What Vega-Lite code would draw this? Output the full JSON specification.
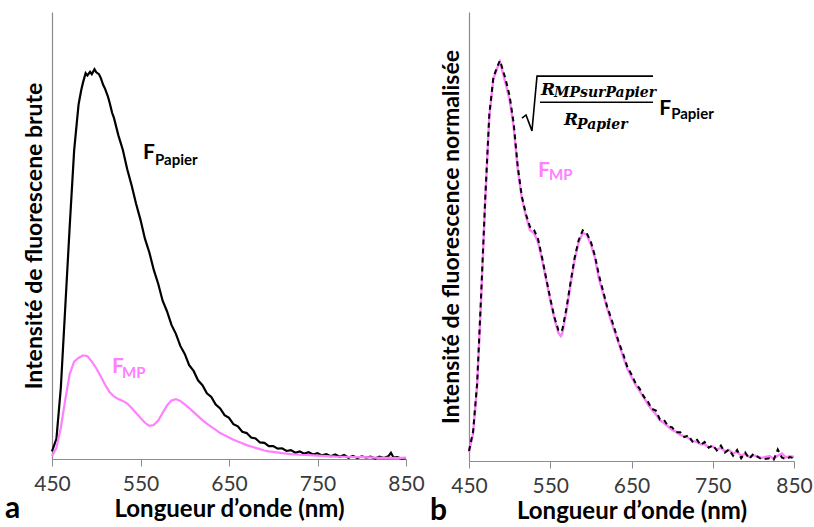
{
  "$schema": "https://vega.github.io/schema/vega-lite/v6.json",
  "padding": {"left": 5, "top": 12, "right": 5, "bottom": 0},
  "spacing": 5,
  "background": "white",
  "config": {
    "font": "Lato",
    "view": {"stroke": null},
    "axisX": {
      "grid": false,
      "labelFlush": false,
      "labelOverlap": false,
      "labelFontSize": 21,
      "labelColor": "#3a3a3a",
      "labelPadding": 7,
      "tickSize": 7,
      "tickColor": "#8c8c8c",
      "domainColor": "#8c8c8c",
      "domainWidth": 1.2,
      "titleFontSize": 24,
      "titleFontWeight": "bold",
      "titleColor": "#000000",
      "titlePadding": 3
    },
    "axisY": {
      "grid": false,
      "ticks": false,
      "labels": false,
      "domainColor": "#8c8c8c",
      "domainWidth": 1.2,
      "titleFontSize": 23,
      "titleFontWeight": "bold",
      "titleColor": "#000000",
      "titlePadding": 6
    },
    "title": {"fontSize": 30, "fontWeight": "bold", "color": "#000000", "font": "Lato"}
  },
  "datasets": {
    "spectra": [
      {"panel": "a", "series": "papier", "nm": 450, "value": 1.7},
      {"panel": "a", "series": "papier", "nm": 455, "value": 4.5},
      {"panel": "a", "series": "papier", "nm": 460, "value": 16},
      {"panel": "a", "series": "papier", "nm": 465, "value": 34},
      {"panel": "a", "series": "papier", "nm": 470, "value": 52},
      {"panel": "a", "series": "papier", "nm": 475, "value": 69},
      {"panel": "a", "series": "papier", "nm": 480, "value": 79.3},
      {"panel": "a", "series": "papier", "nm": 483, "value": 82.5},
      {"panel": "a", "series": "papier", "nm": 485, "value": 84.2},
      {"panel": "a", "series": "papier", "nm": 488, "value": 86.3},
      {"panel": "a", "series": "papier", "nm": 490, "value": 85.8},
      {"panel": "a", "series": "papier", "nm": 493, "value": 86.6},
      {"panel": "a", "series": "papier", "nm": 495, "value": 86.1},
      {"panel": "a", "series": "papier", "nm": 498, "value": 87.2},
      {"panel": "a", "series": "papier", "nm": 500, "value": 86.5},
      {"panel": "a", "series": "papier", "nm": 503, "value": 86.1},
      {"panel": "a", "series": "papier", "nm": 505, "value": 85.3},
      {"panel": "a", "series": "papier", "nm": 508, "value": 83.6},
      {"panel": "a", "series": "papier", "nm": 510, "value": 82.8},
      {"panel": "a", "series": "papier", "nm": 513, "value": 81.2},
      {"panel": "a", "series": "papier", "nm": 515, "value": 79.8},
      {"panel": "a", "series": "papier", "nm": 518, "value": 77.4},
      {"panel": "a", "series": "papier", "nm": 520, "value": 76.3},
      {"panel": "a", "series": "papier", "nm": 525, "value": 72.4},
      {"panel": "a", "series": "papier", "nm": 530, "value": 69.2},
      {"panel": "a", "series": "papier", "nm": 535, "value": 64.8},
      {"panel": "a", "series": "papier", "nm": 540, "value": 61.2},
      {"panel": "a", "series": "papier", "nm": 545, "value": 57.1},
      {"panel": "a", "series": "papier", "nm": 550, "value": 53.5},
      {"panel": "a", "series": "papier", "nm": 555, "value": 49.3},
      {"panel": "a", "series": "papier", "nm": 560, "value": 46.2},
      {"panel": "a", "series": "papier", "nm": 565, "value": 42.3},
      {"panel": "a", "series": "papier", "nm": 570, "value": 39.2},
      {"panel": "a", "series": "papier", "nm": 575, "value": 35.4},
      {"panel": "a", "series": "papier", "nm": 580, "value": 33},
      {"panel": "a", "series": "papier", "nm": 585, "value": 30},
      {"panel": "a", "series": "papier", "nm": 590, "value": 28},
      {"panel": "a", "series": "papier", "nm": 595, "value": 25.3},
      {"panel": "a", "series": "papier", "nm": 600, "value": 23.5},
      {"panel": "a", "series": "papier", "nm": 605, "value": 21},
      {"panel": "a", "series": "papier", "nm": 610, "value": 19.7},
      {"panel": "a", "series": "papier", "nm": 615, "value": 17.6},
      {"panel": "a", "series": "papier", "nm": 620, "value": 16.5},
      {"panel": "a", "series": "papier", "nm": 625, "value": 14.7},
      {"panel": "a", "series": "papier", "nm": 630, "value": 13.9},
      {"panel": "a", "series": "papier", "nm": 635, "value": 12.2},
      {"panel": "a", "series": "papier", "nm": 640, "value": 11.3},
      {"panel": "a", "series": "papier", "nm": 645, "value": 9.8},
      {"panel": "a", "series": "papier", "nm": 650, "value": 9.2},
      {"panel": "a", "series": "papier", "nm": 655, "value": 7.8},
      {"panel": "a", "series": "papier", "nm": 660, "value": 7.3},
      {"panel": "a", "series": "papier", "nm": 665, "value": 6.1},
      {"panel": "a", "series": "papier", "nm": 670, "value": 5.8},
      {"panel": "a", "series": "papier", "nm": 675, "value": 4.8},
      {"panel": "a", "series": "papier", "nm": 680, "value": 4.6},
      {"panel": "a", "series": "papier", "nm": 685, "value": 3.7},
      {"panel": "a", "series": "papier", "nm": 690, "value": 3.6},
      {"panel": "a", "series": "papier", "nm": 695, "value": 2.9},
      {"panel": "a", "series": "papier", "nm": 700, "value": 2.9},
      {"panel": "a", "series": "papier", "nm": 705, "value": 2.3},
      {"panel": "a", "series": "papier", "nm": 710, "value": 2.4},
      {"panel": "a", "series": "papier", "nm": 715, "value": 1.8},
      {"panel": "a", "series": "papier", "nm": 720, "value": 2},
      {"panel": "a", "series": "papier", "nm": 725, "value": 1.4},
      {"panel": "a", "series": "papier", "nm": 730, "value": 1.7},
      {"panel": "a", "series": "papier", "nm": 735, "value": 1.2},
      {"panel": "a", "series": "papier", "nm": 740, "value": 1.5},
      {"panel": "a", "series": "papier", "nm": 745, "value": 1},
      {"panel": "a", "series": "papier", "nm": 750, "value": 1.3},
      {"panel": "a", "series": "papier", "nm": 755, "value": 0.8},
      {"panel": "a", "series": "papier", "nm": 760, "value": 1.1},
      {"panel": "a", "series": "papier", "nm": 765, "value": 0.6},
      {"panel": "a", "series": "papier", "nm": 770, "value": 1},
      {"panel": "a", "series": "papier", "nm": 775, "value": 0.5},
      {"panel": "a", "series": "papier", "nm": 780, "value": 0.9},
      {"panel": "a", "series": "papier", "nm": 785, "value": 0.3},
      {"panel": "a", "series": "papier", "nm": 790, "value": 0.7},
      {"panel": "a", "series": "papier", "nm": 795, "value": 0.2},
      {"panel": "a", "series": "papier", "nm": 800, "value": 0.6},
      {"panel": "a", "series": "papier", "nm": 805, "value": 0.3},
      {"panel": "a", "series": "papier", "nm": 810, "value": 0.5},
      {"panel": "a", "series": "papier", "nm": 815, "value": 0.1},
      {"panel": "a", "series": "papier", "nm": 820, "value": 0.5},
      {"panel": "a", "series": "papier", "nm": 825, "value": 0.2},
      {"panel": "a", "series": "papier", "nm": 830, "value": 0.6},
      {"panel": "a", "series": "papier", "nm": 833, "value": 1.4},
      {"panel": "a", "series": "papier", "nm": 836, "value": 0.3},
      {"panel": "a", "series": "papier", "nm": 840, "value": 0.4},
      {"panel": "a", "series": "papier", "nm": 845, "value": 0.1},
      {"panel": "a", "series": "papier", "nm": 850, "value": 0.2},

      {"panel": "a", "series": "mp", "nm": 450, "value": 0.6},
      {"panel": "a", "series": "mp", "nm": 455, "value": 2.5},
      {"panel": "a", "series": "mp", "nm": 460, "value": 7},
      {"panel": "a", "series": "mp", "nm": 465, "value": 13.3},
      {"panel": "a", "series": "mp", "nm": 470, "value": 19},
      {"panel": "a", "series": "mp", "nm": 475, "value": 21.8},
      {"panel": "a", "series": "mp", "nm": 480, "value": 22.6},
      {"panel": "a", "series": "mp", "nm": 485, "value": 23.2},
      {"panel": "a", "series": "mp", "nm": 490, "value": 23},
      {"panel": "a", "series": "mp", "nm": 495, "value": 21.8},
      {"panel": "a", "series": "mp", "nm": 500, "value": 20.3},
      {"panel": "a", "series": "mp", "nm": 505, "value": 18.5},
      {"panel": "a", "series": "mp", "nm": 510, "value": 16.6},
      {"panel": "a", "series": "mp", "nm": 515, "value": 15},
      {"panel": "a", "series": "mp", "nm": 520, "value": 14},
      {"panel": "a", "series": "mp", "nm": 525, "value": 13.4},
      {"panel": "a", "series": "mp", "nm": 530, "value": 13},
      {"panel": "a", "series": "mp", "nm": 535, "value": 12.4},
      {"panel": "a", "series": "mp", "nm": 540, "value": 11.4},
      {"panel": "a", "series": "mp", "nm": 545, "value": 10.3},
      {"panel": "a", "series": "mp", "nm": 550, "value": 9.2},
      {"panel": "a", "series": "mp", "nm": 555, "value": 8.1},
      {"panel": "a", "series": "mp", "nm": 560, "value": 7.4},
      {"panel": "a", "series": "mp", "nm": 565, "value": 7.6},
      {"panel": "a", "series": "mp", "nm": 570, "value": 8.6},
      {"panel": "a", "series": "mp", "nm": 575, "value": 10.3},
      {"panel": "a", "series": "mp", "nm": 580, "value": 12},
      {"panel": "a", "series": "mp", "nm": 585, "value": 13.1},
      {"panel": "a", "series": "mp", "nm": 590, "value": 13.4},
      {"panel": "a", "series": "mp", "nm": 595, "value": 13},
      {"panel": "a", "series": "mp", "nm": 600, "value": 12.2},
      {"panel": "a", "series": "mp", "nm": 605, "value": 11.4},
      {"panel": "a", "series": "mp", "nm": 610, "value": 10.5},
      {"panel": "a", "series": "mp", "nm": 615, "value": 9.6},
      {"panel": "a", "series": "mp", "nm": 620, "value": 8.7},
      {"panel": "a", "series": "mp", "nm": 625, "value": 7.9},
      {"panel": "a", "series": "mp", "nm": 630, "value": 7.2},
      {"panel": "a", "series": "mp", "nm": 635, "value": 6.5},
      {"panel": "a", "series": "mp", "nm": 640, "value": 5.8},
      {"panel": "a", "series": "mp", "nm": 645, "value": 5.3},
      {"panel": "a", "series": "mp", "nm": 650, "value": 4.8},
      {"panel": "a", "series": "mp", "nm": 655, "value": 4.3},
      {"panel": "a", "series": "mp", "nm": 660, "value": 3.9},
      {"panel": "a", "series": "mp", "nm": 665, "value": 3.5},
      {"panel": "a", "series": "mp", "nm": 670, "value": 3.1},
      {"panel": "a", "series": "mp", "nm": 675, "value": 2.8},
      {"panel": "a", "series": "mp", "nm": 680, "value": 2.5},
      {"panel": "a", "series": "mp", "nm": 685, "value": 2.2},
      {"panel": "a", "series": "mp", "nm": 690, "value": 1.9},
      {"panel": "a", "series": "mp", "nm": 695, "value": 1.7},
      {"panel": "a", "series": "mp", "nm": 700, "value": 1.6},
      {"panel": "a", "series": "mp", "nm": 710, "value": 1.3},
      {"panel": "a", "series": "mp", "nm": 720, "value": 1.1},
      {"panel": "a", "series": "mp", "nm": 730, "value": 0.95},
      {"panel": "a", "series": "mp", "nm": 740, "value": 0.85},
      {"panel": "a", "series": "mp", "nm": 750, "value": 0.75},
      {"panel": "a", "series": "mp", "nm": 760, "value": 0.65},
      {"panel": "a", "series": "mp", "nm": 770, "value": 0.55},
      {"panel": "a", "series": "mp", "nm": 780, "value": 0.5},
      {"panel": "a", "series": "mp", "nm": 790, "value": 0.45},
      {"panel": "a", "series": "mp", "nm": 800, "value": 0.4},
      {"panel": "a", "series": "mp", "nm": 810, "value": 0.35},
      {"panel": "a", "series": "mp", "nm": 820, "value": 0.25},
      {"panel": "a", "series": "mp", "nm": 830, "value": 0.25},
      {"panel": "a", "series": "mp", "nm": 840, "value": 0.2},
      {"panel": "a", "series": "mp", "nm": 850, "value": 0.3},

      {"panel": "b", "series": "mp", "nm": 450, "value": 2},
      {"panel": "b", "series": "mp", "nm": 455, "value": 6.2},
      {"panel": "b", "series": "mp", "nm": 460, "value": 17},
      {"panel": "b", "series": "mp", "nm": 465, "value": 37},
      {"panel": "b", "series": "mp", "nm": 470, "value": 59},
      {"panel": "b", "series": "mp", "nm": 475, "value": 78},
      {"panel": "b", "series": "mp", "nm": 480, "value": 86.5},
      {"panel": "b", "series": "mp", "nm": 485, "value": 89},
      {"panel": "b", "series": "mp", "nm": 488, "value": 90.3},
      {"panel": "b", "series": "mp", "nm": 490, "value": 89},
      {"panel": "b", "series": "mp", "nm": 495, "value": 85.5},
      {"panel": "b", "series": "mp", "nm": 500, "value": 81.7},
      {"panel": "b", "series": "mp", "nm": 505, "value": 75.5},
      {"panel": "b", "series": "mp", "nm": 510, "value": 66},
      {"panel": "b", "series": "mp", "nm": 515, "value": 59.5},
      {"panel": "b", "series": "mp", "nm": 520, "value": 55.5},
      {"panel": "b", "series": "mp", "nm": 525, "value": 52.2},
      {"panel": "b", "series": "mp", "nm": 530, "value": 51.6},
      {"panel": "b", "series": "mp", "nm": 535, "value": 49.5},
      {"panel": "b", "series": "mp", "nm": 540, "value": 45.5},
      {"panel": "b", "series": "mp", "nm": 545, "value": 41},
      {"panel": "b", "series": "mp", "nm": 550, "value": 36.3},
      {"panel": "b", "series": "mp", "nm": 555, "value": 32.3},
      {"panel": "b", "series": "mp", "nm": 560, "value": 29},
      {"panel": "b", "series": "mp", "nm": 563, "value": 28.3},
      {"panel": "b", "series": "mp", "nm": 565, "value": 29},
      {"panel": "b", "series": "mp", "nm": 570, "value": 34},
      {"panel": "b", "series": "mp", "nm": 575, "value": 40},
      {"panel": "b", "series": "mp", "nm": 580, "value": 45.5},
      {"panel": "b", "series": "mp", "nm": 585, "value": 49.5},
      {"panel": "b", "series": "mp", "nm": 590, "value": 51.6},
      {"panel": "b", "series": "mp", "nm": 595, "value": 51.2},
      {"panel": "b", "series": "mp", "nm": 600, "value": 49},
      {"panel": "b", "series": "mp", "nm": 605, "value": 46},
      {"panel": "b", "series": "mp", "nm": 610, "value": 41.2},
      {"panel": "b", "series": "mp", "nm": 615, "value": 37.9},
      {"panel": "b", "series": "mp", "nm": 620, "value": 34.6},
      {"panel": "b", "series": "mp", "nm": 625, "value": 31.6},
      {"panel": "b", "series": "mp", "nm": 630, "value": 28.9},
      {"panel": "b", "series": "mp", "nm": 635, "value": 26.2},
      {"panel": "b", "series": "mp", "nm": 640, "value": 23.4},
      {"panel": "b", "series": "mp", "nm": 645, "value": 20.8},
      {"panel": "b", "series": "mp", "nm": 650, "value": 19},
      {"panel": "b", "series": "mp", "nm": 655, "value": 17.3},
      {"panel": "b", "series": "mp", "nm": 660, "value": 15.8},
      {"panel": "b", "series": "mp", "nm": 665, "value": 14.4},
      {"panel": "b", "series": "mp", "nm": 670, "value": 12.9},
      {"panel": "b", "series": "mp", "nm": 675, "value": 11.6},
      {"panel": "b", "series": "mp", "nm": 680, "value": 10.6},
      {"panel": "b", "series": "mp", "nm": 685, "value": 9.2},
      {"panel": "b", "series": "mp", "nm": 690, "value": 8.6},
      {"panel": "b", "series": "mp", "nm": 695, "value": 7.8},
      {"panel": "b", "series": "mp", "nm": 700, "value": 7},
      {"panel": "b", "series": "mp", "nm": 705, "value": 6.6},
      {"panel": "b", "series": "mp", "nm": 710, "value": 5.9},
      {"panel": "b", "series": "mp", "nm": 715, "value": 5.6},
      {"panel": "b", "series": "mp", "nm": 720, "value": 5.2},
      {"panel": "b", "series": "mp", "nm": 725, "value": 4.5},
      {"panel": "b", "series": "mp", "nm": 730, "value": 4.4},
      {"panel": "b", "series": "mp", "nm": 735, "value": 3.8},
      {"panel": "b", "series": "mp", "nm": 740, "value": 3.8},
      {"panel": "b", "series": "mp", "nm": 745, "value": 3.1},
      {"panel": "b", "series": "mp", "nm": 750, "value": 3.3},
      {"panel": "b", "series": "mp", "nm": 755, "value": 2.6},
      {"panel": "b", "series": "mp", "nm": 760, "value": 3},
      {"panel": "b", "series": "mp", "nm": 765, "value": 2.2},
      {"panel": "b", "series": "mp", "nm": 770, "value": 2.5},
      {"panel": "b", "series": "mp", "nm": 775, "value": 1.7},
      {"panel": "b", "series": "mp", "nm": 780, "value": 2},
      {"panel": "b", "series": "mp", "nm": 785, "value": 1.2},
      {"panel": "b", "series": "mp", "nm": 790, "value": 1.6},
      {"panel": "b", "series": "mp", "nm": 795, "value": 0.9},
      {"panel": "b", "series": "mp", "nm": 800, "value": 1.3},
      {"panel": "b", "series": "mp", "nm": 810, "value": 0.7},
      {"panel": "b", "series": "mp", "nm": 820, "value": 1.1},
      {"panel": "b", "series": "mp", "nm": 825, "value": 0.5},
      {"panel": "b", "series": "mp", "nm": 830, "value": 1.2},
      {"panel": "b", "series": "mp", "nm": 835, "value": 1.7},
      {"panel": "b", "series": "mp", "nm": 840, "value": 0.8},
      {"panel": "b", "series": "mp", "nm": 845, "value": 1.1},
      {"panel": "b", "series": "mp", "nm": 850, "value": 0.9},

      {"panel": "b", "series": "papier", "nm": 450, "value": 2.3},
      {"panel": "b", "series": "papier", "nm": 455, "value": 6.6},
      {"panel": "b", "series": "papier", "nm": 460, "value": 17.5},
      {"panel": "b", "series": "papier", "nm": 465, "value": 37.8},
      {"panel": "b", "series": "papier", "nm": 470, "value": 59.5},
      {"panel": "b", "series": "papier", "nm": 475, "value": 78.4},
      {"panel": "b", "series": "papier", "nm": 480, "value": 86.8},
      {"panel": "b", "series": "papier", "nm": 485, "value": 89.3},
      {"panel": "b", "series": "papier", "nm": 488, "value": 90.6},
      {"panel": "b", "series": "papier", "nm": 490, "value": 89.5},
      {"panel": "b", "series": "papier", "nm": 495, "value": 86.4},
      {"panel": "b", "series": "papier", "nm": 500, "value": 82.6},
      {"panel": "b", "series": "papier", "nm": 505, "value": 76.4},
      {"panel": "b", "series": "papier", "nm": 510, "value": 66.6},
      {"panel": "b", "series": "papier", "nm": 515, "value": 59.9},
      {"panel": "b", "series": "papier", "nm": 520, "value": 55.9},
      {"panel": "b", "series": "papier", "nm": 525, "value": 53},
      {"panel": "b", "series": "papier", "nm": 530, "value": 52.3},
      {"panel": "b", "series": "papier", "nm": 535, "value": 50.2},
      {"panel": "b", "series": "papier", "nm": 540, "value": 46},
      {"panel": "b", "series": "papier", "nm": 545, "value": 41.3},
      {"panel": "b", "series": "papier", "nm": 550, "value": 36.8},
      {"panel": "b", "series": "papier", "nm": 555, "value": 32.6},
      {"panel": "b", "series": "papier", "nm": 560, "value": 29.6},
      {"panel": "b", "series": "papier", "nm": 563, "value": 29.2},
      {"panel": "b", "series": "papier", "nm": 565, "value": 29.8},
      {"panel": "b", "series": "papier", "nm": 570, "value": 34.6},
      {"panel": "b", "series": "papier", "nm": 575, "value": 40.4},
      {"panel": "b", "series": "papier", "nm": 580, "value": 46},
      {"panel": "b", "series": "papier", "nm": 585, "value": 50},
      {"panel": "b", "series": "papier", "nm": 590, "value": 52.2},
      {"panel": "b", "series": "papier", "nm": 595, "value": 51.5},
      {"panel": "b", "series": "papier", "nm": 600, "value": 49.6},
      {"panel": "b", "series": "papier", "nm": 605, "value": 46.4},
      {"panel": "b", "series": "papier", "nm": 610, "value": 42},
      {"panel": "b", "series": "papier", "nm": 615, "value": 38.5},
      {"panel": "b", "series": "papier", "nm": 620, "value": 34.9},
      {"panel": "b", "series": "papier", "nm": 625, "value": 32.3},
      {"panel": "b", "series": "papier", "nm": 630, "value": 29.4},
      {"panel": "b", "series": "papier", "nm": 635, "value": 26.5},
      {"panel": "b", "series": "papier", "nm": 640, "value": 24.1},
      {"panel": "b", "series": "papier", "nm": 645, "value": 21.2},
      {"panel": "b", "series": "papier", "nm": 650, "value": 19.6},
      {"panel": "b", "series": "papier", "nm": 655, "value": 17.6},
      {"panel": "b", "series": "papier", "nm": 660, "value": 16.4},
      {"panel": "b", "series": "papier", "nm": 665, "value": 14.6},
      {"panel": "b", "series": "papier", "nm": 670, "value": 13.5},
      {"panel": "b", "series": "papier", "nm": 675, "value": 11.8},
      {"panel": "b", "series": "papier", "nm": 680, "value": 11.4},
      {"panel": "b", "series": "papier", "nm": 685, "value": 9.4},
      {"panel": "b", "series": "papier", "nm": 690, "value": 9.3},
      {"panel": "b", "series": "papier", "nm": 695, "value": 7.9},
      {"panel": "b", "series": "papier", "nm": 700, "value": 7.6},
      {"panel": "b", "series": "papier", "nm": 705, "value": 6.5},
      {"panel": "b", "series": "papier", "nm": 710, "value": 6.5},
      {"panel": "b", "series": "papier", "nm": 715, "value": 5.4},
      {"panel": "b", "series": "papier", "nm": 720, "value": 5.8},
      {"panel": "b", "series": "papier", "nm": 725, "value": 4.4},
      {"panel": "b", "series": "papier", "nm": 730, "value": 5},
      {"panel": "b", "series": "papier", "nm": 735, "value": 3.6},
      {"panel": "b", "series": "papier", "nm": 740, "value": 4.3},
      {"panel": "b", "series": "papier", "nm": 745, "value": 3},
      {"panel": "b", "series": "papier", "nm": 750, "value": 3.6},
      {"panel": "b", "series": "papier", "nm": 755, "value": 2.4},
      {"panel": "b", "series": "papier", "nm": 760, "value": 3.5},
      {"panel": "b", "series": "papier", "nm": 765, "value": 1.9},
      {"panel": "b", "series": "papier", "nm": 770, "value": 2.6},
      {"panel": "b", "series": "papier", "nm": 775, "value": 1.2},
      {"panel": "b", "series": "papier", "nm": 780, "value": 2.5},
      {"panel": "b", "series": "papier", "nm": 785, "value": 0.6},
      {"panel": "b", "series": "papier", "nm": 790, "value": 1.9},
      {"panel": "b", "series": "papier", "nm": 795, "value": 0.5},
      {"panel": "b", "series": "papier", "nm": 800, "value": 1.6},
      {"panel": "b", "series": "papier", "nm": 810, "value": 0.4},
      {"panel": "b", "series": "papier", "nm": 820, "value": 0.6},
      {"panel": "b", "series": "papier", "nm": 825, "value": 0.3},
      {"panel": "b", "series": "papier", "nm": 830, "value": 2.6},
      {"panel": "b", "series": "papier", "nm": 835, "value": 0.8},
      {"panel": "b", "series": "papier", "nm": 840, "value": 0.4},
      {"panel": "b", "series": "papier", "nm": 845, "value": 0.9},
      {"panel": "b", "series": "papier", "nm": 850, "value": 0.6}
    ],
    "labels": [
      {"panel": "a", "kind": "big", "series": "papier", "text": "F", "nm": 552.8, "value": 67.1},
      {"panel": "a", "kind": "sub", "series": "papier", "text": "Papier", "nm": 566.4, "value": 65.8},
      {"panel": "a", "kind": "big", "series": "mp", "text": "F", "nm": 517.8, "value": 19.2},
      {"panel": "a", "kind": "sub", "series": "mp", "text": "MP", "nm": 529.1, "value": 18.1},
      {"panel": "b", "kind": "big", "series": "mp", "text": "F", "nm": 534.9, "value": 64.25},
      {"panel": "b", "kind": "sub", "series": "mp", "text": "MP", "nm": 548.5, "value": 63.6},
      {"panel": "b", "kind": "big", "series": "papier", "text": "F", "nm": 684, "value": 78.3},
      {"panel": "b", "kind": "sub", "series": "papier", "text": "Papier", "nm": 698.8, "value": 77.4},
      {"panel": "b", "kind": "mathbig", "series": "papier", "text": "R", "nm": 538.6, "value": 82.8},
      {"panel": "b", "kind": "mathsub", "series": "papier", "text": "MPsurPapier", "nm": 554.6, "value": 82.35},
      {"panel": "b", "kind": "mathbig", "series": "papier", "text": "R", "nm": 566.9, "value": 76.0},
      {"panel": "b", "kind": "mathsub", "series": "papier", "text": "Papier", "nm": 582.9, "value": 75.1}
    ],
    "bars": [
      {"panel": "b", "series": "papier", "nm": 537.4, "nm2": 676.5, "value": 81.2}
    ],
    "radical": [
      {"series": "papier", "step": 1, "nm": 515.2, "value": 77.6},
      {"series": "papier", "step": 2, "nm": 520.2, "value": 78.3},
      {"series": "papier", "step": 3, "nm": 527.5, "value": 74.7},
      {"series": "papier", "step": 4, "nm": 533.7, "value": 87.1},
      {"series": "papier", "step": 5, "nm": 676.5, "value": 87.1}
    ]
  },
  "hconcat": [
    {
      "width": 354,
      "height": 447,
      "title": {"text": "a", "orient": "bottom", "anchor": "start", "frame": "group", "dx": -47, "offset": -27},
      "encoding": {
        "x": {"field": "nm", "type": "quantitative", "scale": {"domain": [450, 850], "nice": false}, "axis": {"title": "Longueur d’onde (nm)", "values": [450, 550, 650, 750, 850]}},
        "y": {"field": "value", "type": "quantitative", "scale": {"domain": [0, 100], "nice": false}, "axis": {"title": "Intensité de fluorescene brute"}},
        "color": {"field": "series", "type": "nominal", "scale": {"domain": ["papier", "mp"], "range": ["#000000", "#ff80ff"]}, "legend": null}
      },
      "layer": [
        {"data": {"name": "spectra"}, "transform": [{"filter": "datum.panel == 'a' && datum.series == 'papier'"}], "mark": {"type": "line", "strokeWidth": 2.2}},
        {"data": {"name": "spectra"}, "transform": [{"filter": "datum.panel == 'a' && datum.series == 'mp'"}], "mark": {"type": "line", "strokeWidth": 2.2}},
        {"data": {"name": "labels"}, "transform": [{"filter": "datum.panel == 'a' && datum.kind == 'big'"}], "mark": {"type": "text", "align": "left", "baseline": "alphabetic", "fontSize": 21, "fontWeight": "bold"}, "encoding": {"text": {"field": "text"}}},
        {"data": {"name": "labels"}, "transform": [{"filter": "datum.panel == 'a' && datum.kind == 'sub'"}], "mark": {"type": "text", "align": "left", "baseline": "alphabetic", "fontSize": 15, "fontWeight": "bold"}, "encoding": {"text": {"field": "text"}}}
      ]
    },
    {
      "width": 325,
      "height": 449,
      "title": {"text": "b", "orient": "bottom", "anchor": "start", "frame": "group", "dx": -39, "offset": -27},
      "encoding": {
        "x": {"field": "nm", "type": "quantitative", "scale": {"domain": [450, 850], "nice": false}, "axis": {"title": "Longueur d’onde (nm)", "values": [450, 550, 650, 750, 850]}},
        "y": {"field": "value", "type": "quantitative", "scale": {"domain": [0, 101.6], "nice": false}, "axis": {"title": "Intensité de fluorescence normalisée"}},
        "color": {"field": "series", "type": "nominal", "scale": {"domain": ["papier", "mp"], "range": ["#000000", "#ff80ff"]}, "legend": null}
      },
      "layer": [
        {"data": {"name": "spectra"}, "transform": [{"filter": "datum.panel == 'b' && datum.series == 'mp'"}], "mark": {"type": "line", "strokeWidth": 2.4}},
        {"data": {"name": "spectra"}, "transform": [{"filter": "datum.panel == 'b' && datum.series == 'papier'"}], "mark": {"type": "line", "strokeWidth": 2, "strokeDash": [5, 4]}},
        {"data": {"name": "bars"}, "mark": {"type": "rule", "strokeWidth": 1.5}, "encoding": {"x2": {"field": "nm2"}}},
        {"data": {"name": "radical"}, "mark": {"type": "line", "strokeWidth": 1.6, "strokeJoin": "miter"}, "encoding": {"order": {"field": "step", "type": "quantitative"}}},
        {"data": {"name": "labels"}, "transform": [{"filter": "datum.panel == 'b' && datum.kind == 'big'"}], "mark": {"type": "text", "align": "left", "baseline": "alphabetic", "fontSize": 21, "fontWeight": "bold"}, "encoding": {"text": {"field": "text"}}},
        {"data": {"name": "labels"}, "transform": [{"filter": "datum.panel == 'b' && datum.kind == 'sub'"}], "mark": {"type": "text", "align": "left", "baseline": "alphabetic", "fontSize": 15, "fontWeight": "bold"}, "encoding": {"text": {"field": "text"}}},
        {"data": {"name": "labels"}, "transform": [{"filter": "datum.kind == 'mathbig'"}], "mark": {"type": "text", "align": "left", "baseline": "alphabetic", "fontSize": 17, "fontWeight": "bold", "fontStyle": "italic", "font": "DejaVu Serif"}, "encoding": {"text": {"field": "text"}}},
        {"data": {"name": "labels"}, "transform": [{"filter": "datum.kind == 'mathsub'"}], "mark": {"type": "text", "align": "left", "baseline": "alphabetic", "fontSize": 14, "fontWeight": "bold", "fontStyle": "italic", "font": "DejaVu Serif"}, "encoding": {"text": {"field": "text"}}}
      ]
    }
  ]
}
